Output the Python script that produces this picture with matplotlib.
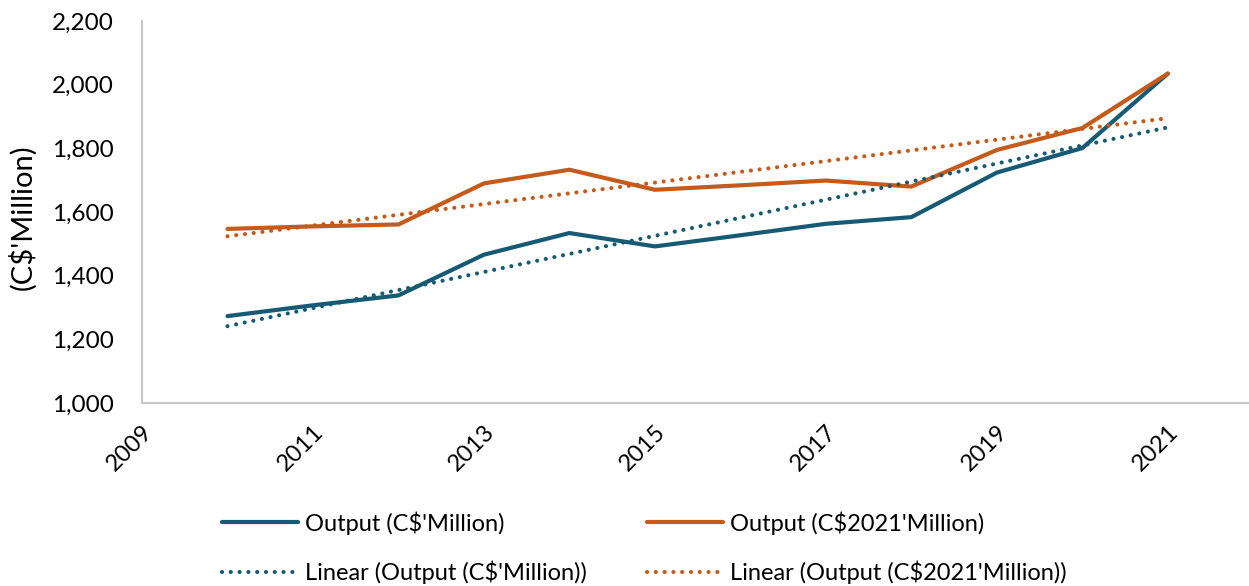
import numpy as np
import matplotlib
matplotlib.use("Agg")
import matplotlib.pyplot as plt

# values
years = [2010, 2011, 2012, 2013, 2014, 2015, 2016, 2017, 2018, 2019, 2020, 2021]
output_nominal = [1273, 1307, 1338, 1466, 1534, 1492, 1527, 1563, 1584, 1724, 1801, 2035]
output_real = [1547, 1555, 1561, 1690, 1733, 1670, 1684, 1699, 1680, 1795, 1864, 2035]
xticks = [2009, 2011, 2013, 2015, 2017, 2019, 2021]
yticks = [1000, 1200, 1400, 1600, 1800, 2000, 2200]

blue = "#175a74"
orange = "#c55a1a"

plt.rcParams["font.family"] = ["Lato", "DejaVu Sans"]

fig = plt.figure(figsize=(12.49, 5.86), dpi=100)
ax = fig.add_axes([0.1137, 0.3123, 0.8863, 0.6517])

x = np.array(years, float)
ax.plot(x, output_nominal, color=blue, lw=3, solid_capstyle="round",
        label="Output (C$'Million)")
ax.plot(x, output_real, color=orange, lw=3, solid_capstyle="round",
        label="Output (C$2021'Million)")

# Excel-style linear trendlines
dotted = (0, (0.01, 2.1))
p1 = np.polyfit(x, output_nominal, 1)
p2 = np.polyfit(x, output_real, 1)
ax.plot(x, np.polyval(p1, x), color=blue, lw=3, ls=dotted, dash_capstyle="round",
        label="Linear (Output (C$'Million))")
ax.plot(x, np.polyval(p2, x), color=orange, lw=3, ls=dotted, dash_capstyle="round",
        label="Linear (Output (C$2021'Million))")

ax.set_xlim(2009, 2021.95)
ax.set_ylim(1000, 2200)
ax.set_xticks(xticks)
ax.set_yticks(yticks)
ax.set_yticklabels([f"{v:,}" for v in yticks], fontsize=17.5)
ax.set_xticklabels([str(v) for v in xticks], fontsize=17, rotation=45,
                   ha="right", rotation_mode="anchor")
ax.tick_params(axis="both", length=0)
ax.tick_params(axis="y", pad=20)
ax.tick_params(axis="x", pad=13)

for side in ["top", "right"]:
    ax.spines[side].set_visible(False)
for side in ["left", "bottom"]:
    ax.spines[side].set_color("#c8c8c8")
    ax.spines[side].set_linewidth(1.5)

fig.text(22 / 1249, 1 - 217 / 586, "(C$'Million)", fontsize=21,
         rotation=90, ha="center", va="center")

h, l = ax.get_legend_handles_labels()
order = [0, 2, 1, 3]
fig.legend([h[i] for i in order], [l[i] for i in order], ncol=2,
           loc="lower left", bbox_to_anchor=(0.161, -0.033), frameon=False,
           fontsize=17, handlelength=3.2, handletextpad=0.3,
           columnspacing=2.55, labelspacing=1.1)

fig.savefig("out.png", dpi=100)
